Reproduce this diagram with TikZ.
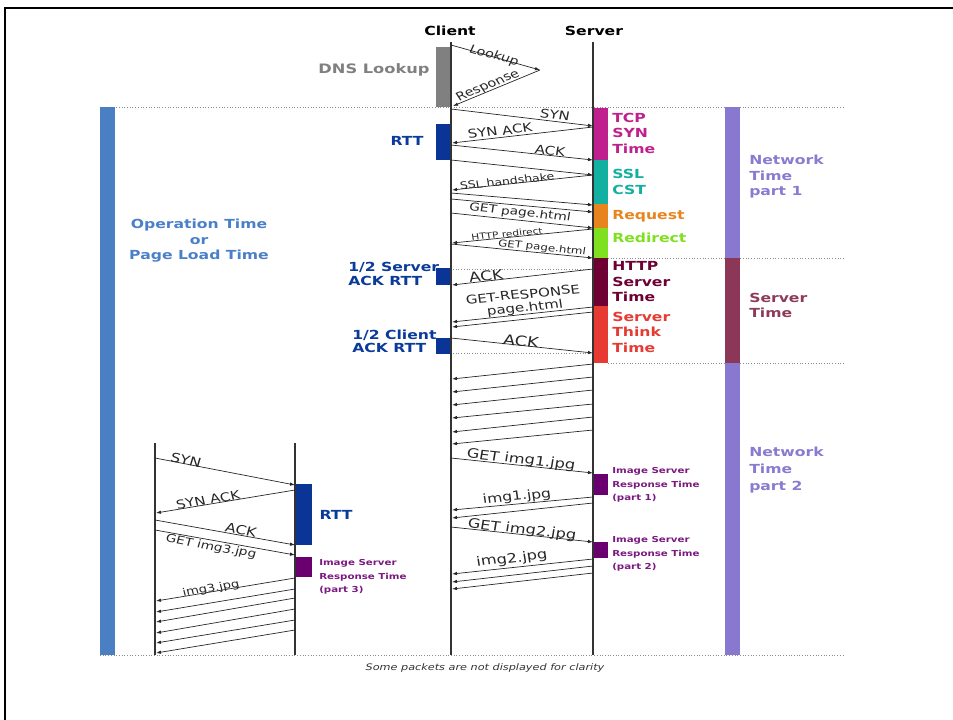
\documentclass[tikz,border=0pt]{standalone}
\usepackage{fontspec}
\setmainfont{DejaVu Sans}
\usetikzlibrary{arrows.meta}
\definecolor{opblue}{HTML}{4A7FC4}
\definecolor{optext}{HTML}{4A80C8}
\definecolor{netpurple}{HTML}{8878D0}
\definecolor{nettext}{HTML}{8A7AD0}
\definecolor{servmaroon}{HTML}{8C3658}
\definecolor{servtext}{HTML}{8E3A5A}
\definecolor{dnsgray}{HTML}{808080}
\definecolor{rttblue}{HTML}{0A3596}
\definecolor{rtttext}{HTML}{0A3A9A}
\definecolor{tcpmag}{HTML}{C0208E}
\definecolor{sslteal}{HTML}{12B0A0}
\definecolor{reqorange}{HTML}{E8841E}
\definecolor{redirgreen}{HTML}{7EE01E}
\definecolor{httpmaroon}{HTML}{6E0033}
\definecolor{thinkred}{HTML}{E63A32}
\definecolor{isrtpurple}{HTML}{6A0070}
\definecolor{isrttext}{HTML}{7A1A80}
\newcommand\mymsg[3]{\coordinate (#1a) at (#2); \coordinate (#1b) at (#3); \draw[msg] (#1a) -- (#1b);}
\begin{document}
\begin{tikzpicture}[x=1pt,y=-1pt,
  msg/.style={draw=black!85, line width=0.7pt, -{Latex[length=5pt,width=3.5pt]}},
  life/.style={draw=black!80, line width=1.3pt},
  dotl/.style={draw=black!45, dotted, line width=0.7pt},
  txt/.style={inner sep=0pt, xscale=1.25},
  blab/.style={txt, font=\bfseries\fontsize{12.5}{15.5}\selectfont},
  slab/.style={txt, font=\bfseries\fontsize{8.2}{13.5}\selectfont, text=isrttext, align=left, anchor=west},
  mlab/.style={txt, text=black!85, font=\fontsize{#1}{#1}\selectfont},
]
\useasboundingbox (0,0) rectangle (953,720);
% frame
\draw[line width=2.2pt] (955,8) -- (5,8) -- (5,722);

% dotted guides
\draw[dotl] (100,107) -- (843,107);
\draw[dotl] (608,258) -- (843,258);
\draw[dotl] (453,269) -- (590,269);
\draw[dotl] (453,353) -- (590,353);
\draw[dotl] (608,363) -- (843,363);
\draw[dotl] (100,655) -- (843,655);

% bars
\fill[opblue] (100,107) rectangle (115,655);
\fill[netpurple] (725,107) rectangle (740,258);
\fill[servmaroon] (725,258) rectangle (740,363);
\fill[netpurple] (725,363) rectangle (740,655);
\fill[dnsgray] (436,47) rectangle (450,107);
\fill[rttblue] (436,124) rectangle (451,160);
\fill[rttblue] (436,268) rectangle (451,285);
\fill[rttblue] (436,338) rectangle (451,354);
\fill[tcpmag] (593,108) rectangle (608,160);
\fill[sslteal] (593,160) rectangle (608,204);
\fill[reqorange] (593,204) rectangle (608,228);
\fill[redirgreen] (593,228) rectangle (608,258);
\fill[httpmaroon] (593,258) rectangle (608,306);
\fill[thinkred] (593,306) rectangle (608,363);
\fill[isrtpurple] (593,474) rectangle (608,495);
\fill[isrtpurple] (593,542) rectangle (608,558);
\fill[rttblue] (295,484) rectangle (312,545);
\fill[isrtpurple] (295,557) rectangle (312,577);

% lifelines
\coordinate (cT) at (451,42); \coordinate (cB) at (451,655);
\coordinate (sT) at (593,42); \coordinate (sB) at (593,655);
\coordinate (lcT) at (155,443); \coordinate (lcB) at (155,655);
\coordinate (lsT) at (295,443); \coordinate (lsB) at (295,655);
\draw[life] (cT) -- (cB);
\draw[life] (sT) -- (sB);
\draw[life] (lcT) -- (lcB);
\draw[life] (lsT) -- (lsB);

% messages
\mymsg{m1}{451,45}{540,70}
\coordinate (m2b) at (453,106); \draw[msg] (m1b) -- (m2b);
\mymsg{m3}{451,109}{593,126}
\mymsg{m4}{593,127}{452,143}
\mymsg{m5}{451,145}{593,160}
\mymsg{m6}{451,160}{593,175}
\mymsg{m7}{593,175}{452,190}
\mymsg{m8}{451,193}{593,205}
\mymsg{m9}{451,199}{593,212}
\mymsg{ma}{451,213}{593,228}
\mymsg{mb}{593,229}{452,243}
\mymsg{mc}{451,244}{593,258}
\mymsg{md}{593,269}{452,285}
\mymsg{me}{593,307}{452,322}
\mymsg{mf}{593,312}{452,327}
\mymsg{mg}{451,338}{593,353}
\foreach \i/\ys/\yc in {1/364/379,2/377/392,3/390/405,4/404/418,5/417/432,6/430/444}{
  \mymsg{r\i}{593,\ys}{452,\yc}
}
\mymsg{mh}{451,458}{593,473}
\mymsg{mi}{593,497}{452,510}
\mymsg{mj}{593,503}{452,518}
\mymsg{mk}{451,527}{593,542}
\mymsg{ml}{593,559}{452,574}
\mymsg{mm}{593,566}{452,582}
\mymsg{mn}{593,573}{452,589}
% left small exchange
\mymsg{n1}{155,458}{295,485}
\mymsg{n2}{295,490}{156,513}
\mymsg{n3}{155,520}{295,545}
\mymsg{n4}{155,530}{295,555}
\foreach \i/\ys/\yc in {5/578/601,6/589/612,7/598/622,8/609/633,9/620/643,10/630/653}{
  \mymsg{n\i}{295,\ys}{156,\yc}
}

% message labels
\node[mlab=11.5, rotate=-19.3] (lLookup) at (494,56) {Lookup};
\node[mlab=11.5, rotate=27.4] (lResp) at (488,86) {Response};
\node[mlab=12, rotate=-8.5] (lSyn) at (555,115) {SYN};
\node[mlab=12, rotate=8.1] (lSynAck) at (500,131) {SYN ACK};
\node[mlab=12, rotate=-7.5] (lAck) at (550,151) {ACK};
\node[mlab=10, rotate=7.6] (lSsl) at (507,181) {SSL handshake};
\node[mlab=11, rotate=-7.5] (lGet1) at (520,213) {GET page.html};
\node[mlab=8.5, rotate=7.1] (lRedir) at (507,234) {HTTP redirect};
\node[mlab=9.5, rotate=-7.1] (lGet2) at (542,248) {GET page.html};
\node[mlab=13.5, rotate=8.1] (lAck2) at (486,276) {ACK};
\node[txt, text=black!85, font=\fontsize{12}{13}\selectfont, rotate=7, align=center] (lGR) at (524,302) {GET-RESPONSE\\page.html};
\node[mlab=14, rotate=-7.8] (lAck3) at (521,341) {ACK};
\node[mlab=13, rotate=-7.5] (lImg1) at (521,460) {GET img1.jpg};
\node[mlab=12.5, rotate=6.6] (lImg1r) at (517,497) {img1.jpg};
\node[mlab=13, rotate=-7.5] (lImg2) at (522,530) {GET img2.jpg};
\node[mlab=13, rotate=7.5] (lImg2r) at (512,559) {img2.jpg};
\node[mlab=12.5, rotate=-13.5] (lSynL) at (186,460) {SYN};
\node[mlab=12, rotate=11.6] (lSynAckL) at (208,500) {SYN ACK};
\node[mlab=12.5, rotate=-12.6] (lAckL) at (241,530) {ACK};
\node[mlab=11, rotate=-12.6] (lGet3) at (211,547) {GET img3.jpg};
\node[mlab=10.5, rotate=11.6] (lImg3) at (211,589) {img3.jpg};

% bold labels
\node[blab] (client) at (450,31) {Client};
\node[blab] (server) at (594,31) {Server};
\node[blab, text=dnsgray, font=\bfseries\fontsize{13}{15}\selectfont] (dns) at (374,70) {DNS Lookup};
\node[blab, text=rtttext] (rtt1) at (407,141) {RTT};
\node[blab, text=rtttext, align=left, anchor=west, font=\bfseries\fontsize{12.5}{14.5}\selectfont] (hsr) at (348,274) {1/2 Server\\ACK RTT};
\node[blab, text=rtttext, align=left, anchor=west, font=\bfseries\fontsize{12.5}{13.5}\selectfont] (hcr) at (352,341.5) {1/2 Client\\ACK RTT};
\node[blab, text=optext, align=center] (op) at (199,241) {Operation Time\\or\\Page Load Time};
\node[blab, text=tcpmag, align=left, anchor=west] (tcp) at (612,133) {TCP\\SYN\\Time};
\node[blab, text=sslteal, align=left, anchor=west, font=\bfseries\fontsize{12.5}{16}\selectfont] (ssl) at (612,182) {SSL\\CST};
\node[blab, text=reqorange, anchor=west] (req) at (612,216) {Request};
\node[blab, text=redirgreen, anchor=west] (redir) at (612,238) {Redirect};
\node[blab, text=httpmaroon, align=left, anchor=west] (http) at (612,282) {HTTP\\Server\\Time};
\node[blab, text=thinkred, align=left, anchor=west] (think) at (612,332) {Server\\Think\\Time};
\node[blab, text=nettext, align=left, anchor=west] (net1) at (749,177) {Network\\Time\\part 1};
\node[blab, text=servtext, align=left, anchor=west] (srvt) at (749,305.5) {Server\\Time};
\node[blab, text=nettext, align=left, anchor=west, font=\bfseries\fontsize{12.5}{17}\selectfont] (net2) at (749,470) {Network\\Time\\part 2};
\node[slab] (is1) at (612,485) {Image Server\\Response Time\\(part 1)};
\node[slab] (is2) at (612,554) {Image Server\\Response Time\\(part 2)};
\node[slab] (is3) at (319,577) {Image Server\\Response Time\\(part 3)};
\node[blab, text=rtttext] (rtt2) at (336,515) {RTT};

\node[txt, text=black!80, font=\itshape\fontsize{9}{11}\selectfont] (cap) at (485,668) {Some packets are not displayed for clarity};
\end{tikzpicture}
\end{document}
